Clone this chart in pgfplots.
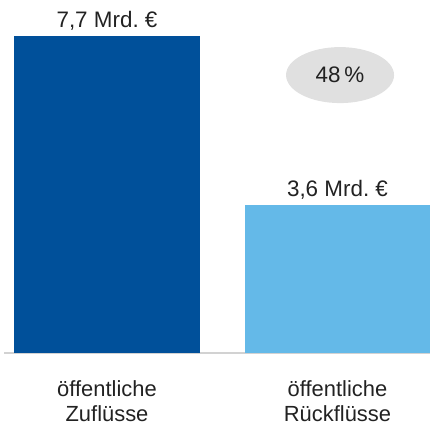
\documentclass[border=0pt]{standalone}
\usepackage{pgfplots}
\pgfplotsset{compat=1.18}
\usetikzlibrary{shapes.geometric}
\usepackage{fontspec}
\setmainfont{Liberation Sans}
\definecolor{darkblue}{HTML}{00509A}
\definecolor{lightblue}{HTML}{64B9E8}
\definecolor{ovalgray}{HTML}{E0E0E0}
\definecolor{basegray}{HTML}{D2D2D2}
\definecolor{txt}{HTML}{222222}
\frenchspacing
\begin{document}
\begin{tikzpicture}
\useasboundingbox (0,0) rectangle (430bp,427bp);
\begin{axis}[
    at={(4bp,74bp)}, anchor=south west,
    scale only axis,
    width=426bp, height=353bp,
    xmin=-0.4469, xmax=1.4013,
    ymin=0, ymax=8.574,
    axis y line=none,
    axis x line*=bottom,
    x axis line style={basegray, line width=2bp, -},
    xtick={0,1},
    xticklabels={{öffentliche\\Zuflüsse},{öffentliche\\Rückflüsse}},
    major tick length=0pt,
    xticklabel style={align=center, text=txt, inner sep=0pt, anchor=north, yshift=-27bp,
        font=\fontsize{22}{25.5}\selectfont},
    ybar, bar shift=0pt, bar width=0.806,
    point meta=explicit symbolic,
    nodes near coords,
    every node near coord/.append style={text=txt, anchor=base, inner sep=0pt, yshift=8bp,
        font=\fontsize{22.5}{24}\selectfont},
    clip=false,
]
\addplot[draw=none, fill=darkblue] coordinates {(0,7.7) [7,7 Mrd. €]};
\addplot[draw=none, fill=lightblue] coordinates {(1,3.6) [3,6 Mrd. €]};
\node[ellipse, fill=ovalgray, minimum width=108bp, minimum height=56bp, inner sep=0pt,
      text=txt, font=\fontsize{22.5}{24}\selectfont] at (axis cs:1.011,6.75) {48\,\%};
\end{axis}
\end{tikzpicture}
\end{document}
